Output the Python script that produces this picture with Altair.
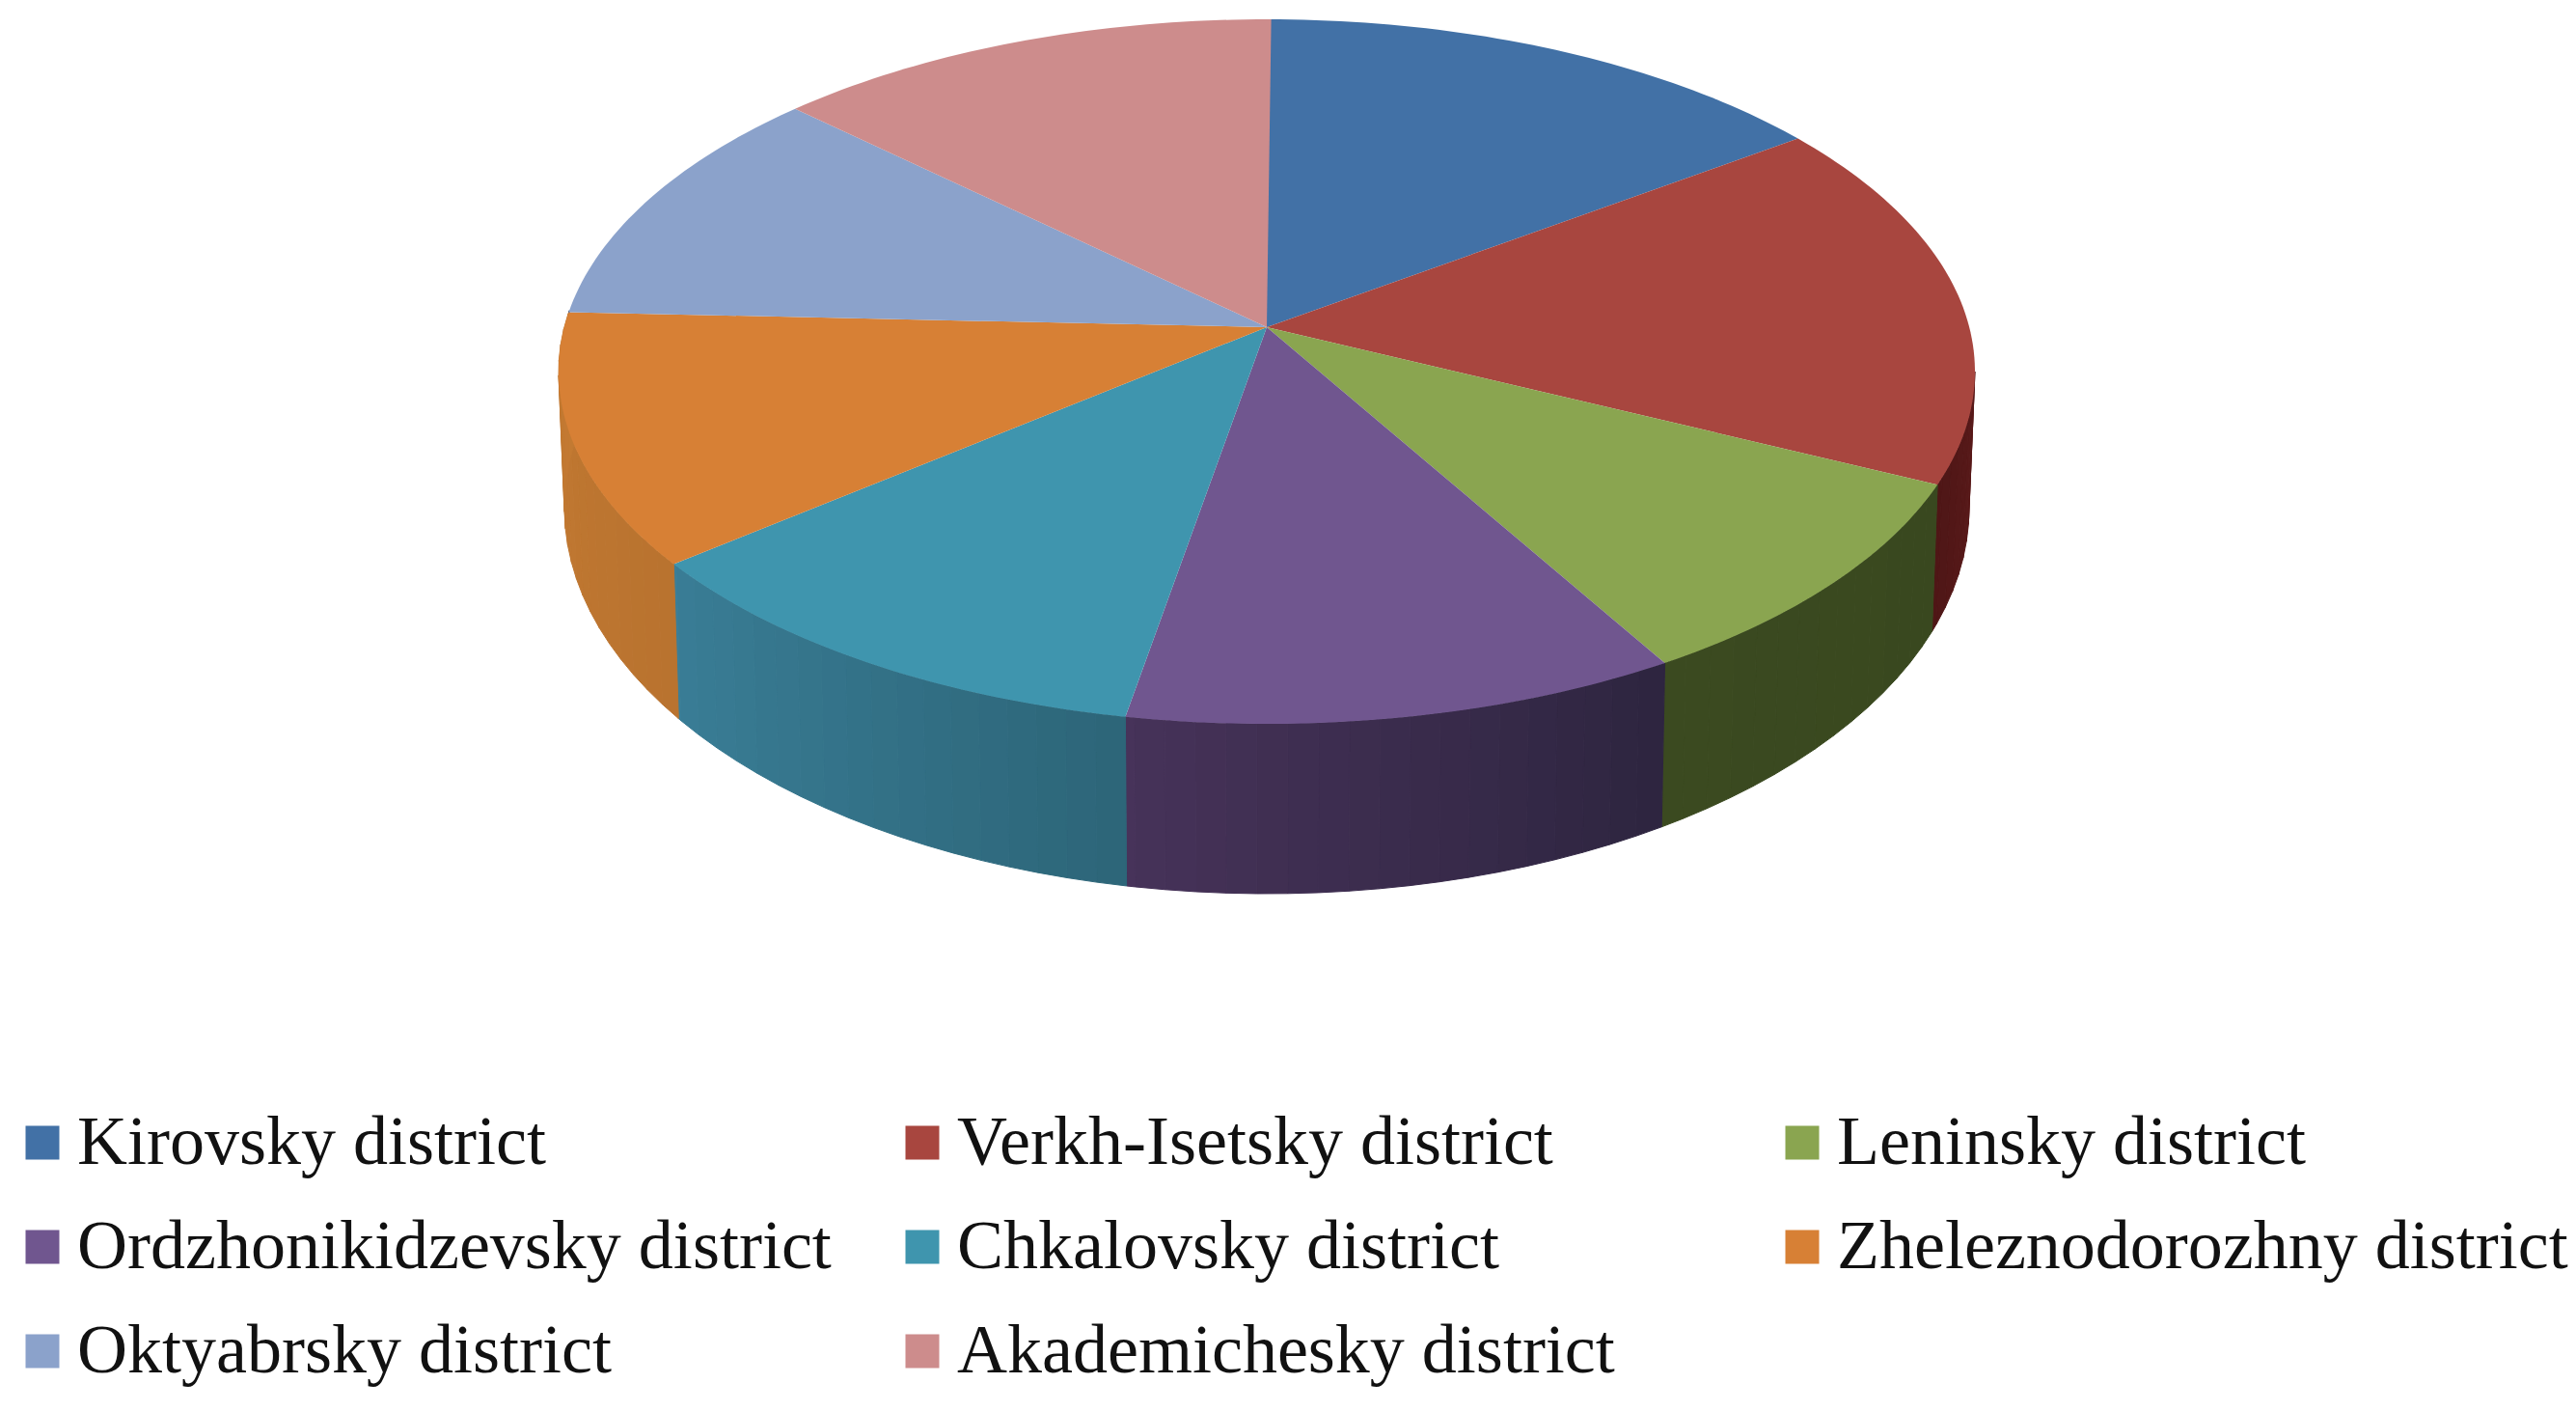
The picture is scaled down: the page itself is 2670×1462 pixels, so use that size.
import math
import altair as alt

districts = ["Kirovsky district", "Verkh-Isetsky district", "Leninsky district",
             "Ordzhonikidzevsky district", "Chkalovsky district", "Zheleznodorozhny district",
             "Oktyabrsky district", "Akademichesky district"]
shares = [13.5, 16.7, 10.3, 12.7, 12.6, 11.9, 10.7, 11.7]
top_colors = ["#4271a6", "#a8463f", "#8aa550", "#70568f", "#3f95ae", "#d78035", "#8ba2cb", "#cd8c8c"]
wall_from = ["#22395a", "#5a1a1a", "#39481f", "#2e2540", "#2d6679", "#b9732f", "#4a5a78", "#7a4f4f"]
wall_to = ["#22395a", "#4e1616", "#3b4a20", "#47335a", "#3a7e97", "#c47a32", "#4a5a78", "#7a4f4f"]

# page-pixel layout of the tilted disc
APEX = (1305, 331)
TOP = dict(cx=1305, cy=377, rx=734, ry=365)
BOTTOM = dict(cx=1305, cy=518, rx=728, ry=400)
WALL_RANGE = (90, 280)


def rim(e, deg):
    a = math.radians(deg)
    return [e["cx"] + e["rx"] * math.sin(a), e["cy"] - e["ry"] * math.cos(a)]


def arange(a, b, step):
    out, v = [], a
    while v < b:
        out.append(v)
        v += step
    return out + [b]


def mix(c1, c2, t):
    p = [int(c1[i:i + 2], 16) for i in (1, 3, 5)]
    q = [int(c2[i:i + 2], 16) for i in (1, 3, 5)]
    return "#%02x%02x%02x" % tuple(round(x + (y - x) * t) for x, y in zip(p, q))


def feature(ring, **props):
    return {"type": "Feature", "properties": props,
            "geometry": {"type": "Polygon", "coordinates": [ring + [ring[0]]]}}


tops, walls = [], []
start = 0.0
for i, name in enumerate(districts):
    end = start + shares[i] * 3.6
    tops.append(feature([list(APEX)] + [rim(TOP, d) for d in arange(start, end, 1)],
                        district=name))
    a, b = max(start, WALL_RANGE[0]), min(end, WALL_RANGE[1])
    if a < b:
        steps = arange(a, b, 2.5)
        for d0, d1 in zip(steps[:-1], steps[1:]):
            ring = [rim(TOP, d0), rim(TOP, d1), rim(BOTTOM, d1), rim(BOTTOM, d0)]
            walls.append(feature(ring, shade=mix(wall_from[i], wall_to[i], (d0 - a) / (b - a))))
    start = end

wall_layer = (
    alt.Chart(alt.Data(values=walls))
    .mark_geoshape(strokeWidth=1)
    .encode(fill=alt.Fill("properties.shade:N", scale=None),
            stroke=alt.Stroke("properties.shade:N", scale=None))
    .project(type="identity", scale=1, translate=[0, 0])
)

top_layer = (
    alt.Chart(alt.Data(values=tops))
    .mark_geoshape(strokeWidth=1)
    .encode(
        color=alt.Color(
            "properties.district:N",
            scale=alt.Scale(domain=districts, range=top_colors),
            legend=alt.Legend(
                title=None, orient="none", legendX=0, legendY=1140,
                direction="horizontal",
                columns=3, gridAlign="all", columnPadding=58, rowPadding=36,
                symbolType="square", symbolSize=1225, symbolStrokeWidth=0, symbolOffset=0,
                labelFont="Liberation Serif", labelFontSize=72, labelColor="#111111",
                labelLimit=1000, labelOffset=0, symbolOpacity=1,
            ),
        )
    )
    .project(type="identity", scale=1, translate=[0, 0])
)

chart = (
    alt.layer(wall_layer, top_layer)
    .properties(width=2654, height=1446, padding=0, background="white",
                autosize=alt.AutoSizeParams(type="none"))
    .configure_view(stroke=None)
)

chart.save("out.html", embed_options={"renderer": "svg", "actions": False})
